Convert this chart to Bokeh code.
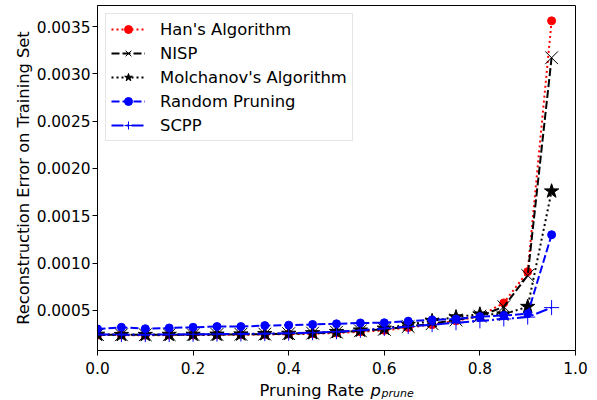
from bokeh.plotting import figure
from bokeh.layouts import column
from bokeh.models import Range1d, FixedTicker, PrintfTickFormatter, Legend, LegendItem
from bokeh.core.properties import value
from bokeh.embed import file_html
from bokeh.resources import INLINE

# ---- data ----
prune_rate = [0.0, 0.05, 0.1, 0.15, 0.2, 0.25, 0.3, 0.35, 0.4, 0.45,
              0.5, 0.55, 0.6, 0.65, 0.7, 0.75, 0.8, 0.85, 0.9, 0.95]
han = [0.00024, 0.00024, 0.000238, 0.00024, 0.00024, 0.000242, 0.000244, 0.000246, 0.00025, 0.000254,
       0.000262, 0.000275, 0.00029, 0.00032, 0.00035, 0.00039, 0.00044, 0.00058, 0.00091, 0.00356]
nisp = [0.000245, 0.000243, 0.000243, 0.000244, 0.000245, 0.000246, 0.000248, 0.00025, 0.000255, 0.00026,
        0.00027, 0.000285, 0.0003, 0.00033, 0.00036, 0.0004, 0.00044, 0.00054, 0.00087, 0.00317]
molchanov = [0.000246, 0.000244, 0.000244, 0.000245, 0.000246, 0.000247, 0.000249, 0.000252, 0.000256, 0.000262,
             0.000275, 0.00029, 0.00031, 0.00035, 0.00039, 0.00043, 0.00046, 0.00046, 0.00054, 0.00176]
random_pruning = [0.000305, 0.000322, 0.000307, 0.000315, 0.000322, 0.00033, 0.00033, 0.00034, 0.000345, 0.000352,
                  0.000359, 0.000368, 0.00037, 0.000387, 0.0004, 0.00041, 0.000435, 0.000447, 0.000465, 0.0013]
scpp = [0.000245, 0.000245, 0.000244, 0.000246, 0.000248, 0.00025, 0.000252, 0.000255, 0.00026, 0.000265,
        0.000275, 0.00029, 0.00031, 0.00033, 0.00035, 0.00037, 0.00039, 0.00041, 0.00043, 0.00053]
x_ticks = [0.0, 0.2, 0.4, 0.6, 0.8, 1.0]
y_ticks = [0.0005, 0.001, 0.0015, 0.002, 0.0025, 0.003, 0.0035]
series_names = ["Han's Algorithm", "NISP", "Molchanov's Algorithm", "Random Pruning", "SCPP"]
x_label_parts = ["Pruning Rate ", "p", "prune"]

FONT = "DejaVu Sans"
Y0, Y1 = 0.000077, 0.003722
W = 597

p = figure(width=W, height=380, output_backend="svg", toolbar_location=None,
           x_range=Range1d(0.0, 1.0), y_range=Range1d(Y0, Y1),
           min_border_left=97, min_border_right=22, min_border_top=5, min_border_bottom=30)
p.grid.visible = False
p.outline_line_color = "black"
p.outline_line_width = 1
p.background_fill_color = "white"
p.border_fill_color = "white"

for ax in (p.xaxis[0], p.yaxis[0]):
    ax.major_tick_out = 5
    ax.major_tick_in = 0
    ax.minor_tick_out = 0
    ax.minor_tick_in = 0
    ax.axis_line_color = "black"
    ax.major_tick_line_color = "black"
    ax.major_label_text_font = FONT
    ax.major_label_text_font_size = "15.4px"
    ax.major_label_text_color = "black"

p.xaxis.major_label_standoff = 6
p.yaxis.major_label_standoff = 2
p.xaxis.ticker = FixedTicker(ticks=x_ticks)
p.xaxis.formatter = PrintfTickFormatter(format="%.1f")
p.yaxis.ticker = FixedTicker(ticks=y_ticks)
p.yaxis.formatter = PrintfTickFormatter(format="%.4f")
p.yaxis.axis_label = "Reconstruction Error on Training Set"
p.yaxis.axis_label_text_font = FONT
p.yaxis.axis_label_text_font_size = "16.3px"
p.yaxis.axis_label_text_font_style = "normal"
p.yaxis.axis_label_text_color = "black"
p.yaxis.axis_label_standoff = 1

items = []
r1 = p.line(prune_rate, han, line_color="red", line_width=2, line_dash="2 3")
m1 = p.scatter(prune_rate, han, marker="circle", size=8, fill_color="red", line_color="red")
items.append(LegendItem(label=series_names[0], renderers=[r1, m1]))

r2 = p.line(prune_rate, nisp, line_color="black", line_width=2, line_dash="8 3")
m2 = p.scatter(prune_rate, nisp, marker="x", size=18, line_color="black", line_width=1)
items.append(LegendItem(label=series_names[1], renderers=[r2, m2]))

r3 = p.line(prune_rate, molchanov, line_color="black", line_width=2, line_dash="2 3")
m3 = p.scatter(prune_rate, molchanov, marker="star", size=15, fill_color="black", line_color="black")
items.append(LegendItem(label=series_names[2], renderers=[r3, m3]))

r4 = p.line(prune_rate, random_pruning, line_color="blue", line_width=2, line_dash="8 3")
m4 = p.scatter(prune_rate, random_pruning, marker="circle", size=8, fill_color="blue", line_color="blue")
items.append(LegendItem(label=series_names[3], renderers=[r4, m4]))

r5 = p.line(prune_rate, scpp, line_color="blue", line_width=2, line_dash="12 3 2 3")
m5 = p.scatter(prune_rate, scpp, marker="cross", size=15, line_color="blue", line_width=1)
items.append(LegendItem(label=series_names[4], renderers=[r5, m5]))

legend = Legend(items=items, location="top_left", margin=8, padding=5, spacing=4,
                glyph_width=34, glyph_height=20, label_height=20, label_standoff=15,
                label_text_font=FONT, label_text_font_size="16.4px", label_text_color="black",
                border_line_color="#cccccc", border_line_width=1,
                background_fill_color="white", background_fill_alpha=0.8)
p.add_layout(legend)

# strip below the chart holding the x-axis title "Pruning Rate p_prune"
# (its frame is aligned with the chart's frame, so it shares the x range)
q = figure(width=W, height=20, output_backend="svg", toolbar_location=None,
           x_range=p.x_range, y_range=Range1d(0, 20),
           min_border_left=97, min_border_right=22, min_border_top=0, min_border_bottom=0)
q.axis.visible = False
q.grid.visible = False
q.outline_line_color = None
q.background_fill_color = "white"
q.border_fill_color = "white"
q.text(x=[0.339], y=[10], text=[x_label_parts[0]], text_font=value(FONT), text_font_size="16.3px",
       text_baseline="middle", text_align="left", text_color="black")
q.text(x=[0.571], y=[10], text=[x_label_parts[1]], text_font=value(FONT), text_font_size="16.3px",
       text_font_style="italic", text_baseline="middle", text_align="left", text_color="black")
q.text(x=[0.594], y=[7.5], text=[x_label_parts[2]], text_font=value(FONT), text_font_size="11px",
       text_font_style="italic", text_baseline="middle", text_align="left", text_color="black")

layout = column(p, q, spacing=0)
open("out.html", "w").write(file_html(layout, INLINE))
